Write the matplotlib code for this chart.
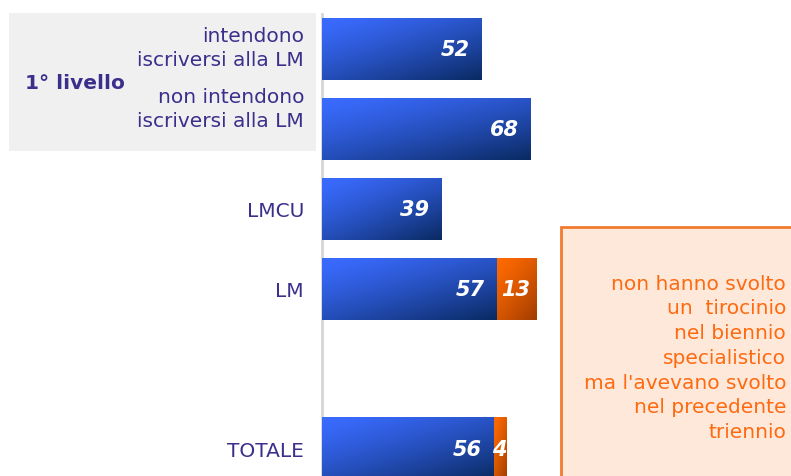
import numpy as np
import matplotlib
matplotlib.use("Agg")
import matplotlib.pyplot as plt
from matplotlib.patches import Rectangle
from matplotlib.colors import to_rgb

# data
categories = ["intendono\niscriversi alla LM", "non intendono\niscriversi alla LM",
              "LMCU", "LM", "TOTALE"]
svolto = [52, 68, 39, 57, 56]
solo_triennio = [0, 0, 0, 13, 4]
box_text = ("non hanno svolto\nun  tirocinio\nnel biennio\nspecialistico\n"
            "ma l'avevano svolto\nnel precedente\ntriennio")
group_label = "1° livello"
title = "Tirocinio per tipo di corso (%)"

W, H = 791, 477
PURPLE = "#3b2f8c"
ORANGE_TXT = "#ff6a10"
SCALE = 3.07  # pixels per percentage point


def px(x, y):
    # pixel position (from top-left) -> figure fraction
    return x / W, 1 - y / H


def gradient_fill(ax, patch, c_light, c_dark):
    x0, y0 = patch.get_x(), patch.get_y()
    w, h = patch.get_width(), patch.get_height()
    if w <= 0:
        return
    n = 80
    u = np.linspace(0, 1, n)[None, :]
    v = np.linspace(0, 1, n)[:, None]
    t = 0.45 * u + 0.55 * v
    t = t ** 1.3
    c1 = np.array(to_rgb(c_light))
    c2 = np.array(to_rgb(c_dark))
    img = c1[None, None, :] * (1 - t[..., None]) + c2[None, None, :] * t[..., None]
    ax.imshow(img, extent=(x0, x0 + w, y0 + h, y0), origin="upper",
              aspect="auto", interpolation="bilinear", zorder=3)


fig = plt.figure(figsize=(W / 100, H / 100), dpi=100)
ax = fig.add_axes([322 / W, 0, (W - 322) / W, (H - 15) / H])

pos = [0, 1, 2, 3, 5]
bh = 0.775
b1 = ax.barh(pos, svolto, height=bh, color="#2450d8", zorder=2)
b2 = ax.barh(pos, solo_triennio, left=svolto, height=bh, color="#e05a00", zorder=2)

for p in b1:
    gradient_fill(ax, p, "#3a6bff", "#0a2a62")
for p in b2:
    gradient_fill(ax, p, "#ff6a00", "#a03c00")

for y, a, b in zip(pos, svolto, solo_triennio):
    ax.text(a - 4.0, y, str(a), ha="right", va="center", color="white",
            fontsize=15, fontweight="bold", fontstyle="italic", zorder=4)
    if b > 0:
        ax.text(a + b / 2 - 0.3, y, str(b), ha="center", va="center", color="white",
                fontsize=15, fontweight="bold", fontstyle="italic", zorder=4)

ax.set_xlim(0, (W - 322) / SCALE)
ax.set_ylim((H - 50) / 80, (15 - 50) / 80)
ax.set_xticks([])
ax.set_yticks(pos)
# the two 1st-level labels sit higher in the grey box, drawn separately below
ax.set_yticklabels(["", ""] + categories[2:], fontsize=14.5, color=PURPLE)
ax.tick_params(axis="y", length=0, pad=13)
for s in ["top", "right", "bottom"]:
    ax.spines[s].set_visible(False)
ax.spines["left"].set_color("#d6d6d6")
ax.spines["left"].set_linewidth(2)
ax.patch.set_alpha(0)

# grey group box on the left
x0, y0 = px(9, 152)
fig.patches.append(Rectangle((x0, y0), (316 - 9) / W, (152 - 14) / H,
                             transform=fig.transFigure, facecolor="#f0f0f0",
                             edgecolor="none", zorder=-1))
fig.text(*px(25, 84), group_label, fontsize=14.5, fontweight="bold",
         color=PURPLE, ha="left", va="center")
for lab, base in zip(categories[:2], [66, 127]):
    fig.text(*px(304, base), lab, fontsize=14.5, color=PURPLE, ha="right",
             va="baseline", multialignment="right", linespacing=1.36)

# orange note box
bx, by = px(561, 500)
fig.patches.append(Rectangle((bx, by), 300 / W, (500 - 228) / H,
                             transform=fig.transFigure, facecolor="#fde8da",
                             edgecolor="#f07a30", linewidth=2, zorder=5))
fig.text(*px(786, 438), box_text, fontsize=14.5, color=ORANGE_TXT, ha="right",
         va="baseline", multialignment="right", linespacing=1.38, zorder=6)

# title, almost entirely above the visible area
fig.text(537 / W, 1 + 3.5 / H, title, fontsize=16, fontweight="bold",
         color="#e00000", ha="right", va="baseline")

fig.savefig("out.png", dpi=100)
